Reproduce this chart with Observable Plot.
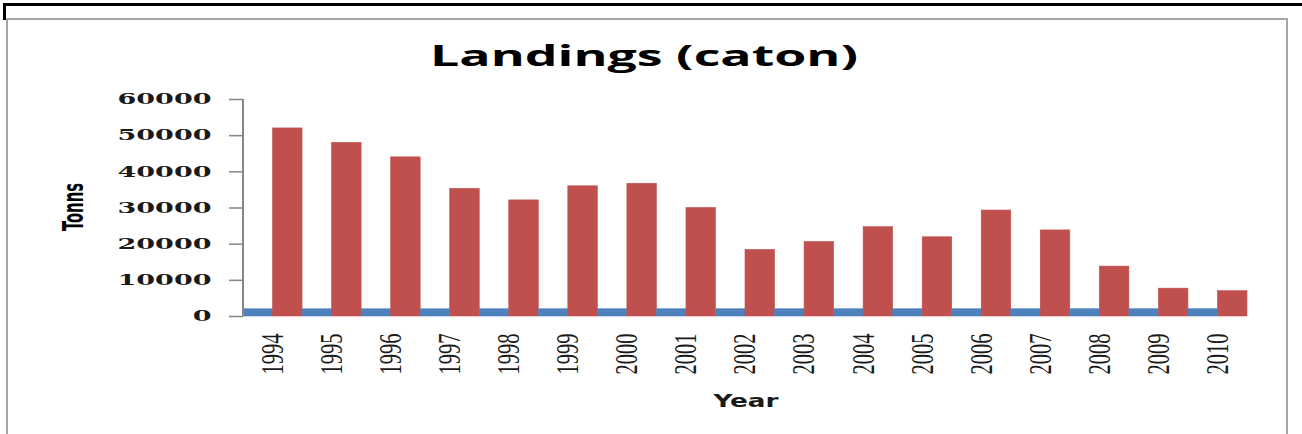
<!DOCTYPE html>
<html><head><meta charset="utf-8">
<script src="https://cdn.jsdelivr.net/npm/d3@7"></script>
<script src="https://cdn.jsdelivr.net/npm/@observablehq/plot@0.6"></script>
<style>
html,body{margin:0;padding:0;background:#fff;}
#wrap{position:relative;width:1302px;height:434px;overflow:hidden;background:#fff;}
#black{position:absolute;left:3px;top:3px;right:0;height:14px;border-top:3px solid #000;border-left:3px solid #000;}
#frame{position:absolute;left:6px;top:18px;width:1278px;height:440px;border:2px solid #a6a6a6;}
#wrap svg{position:absolute;left:0;top:0;}
</style></head>
<body><div id="wrap"><div id="black"></div><div id="frame"></div></div>
<script>
const years = ["1994","1995","1996","1997","1998","1999","2000","2001","2002","2003","2004","2005","2006","2007","2008","2009","2010"];
const landings = [52000,48000,44000,35300,32100,36000,36700,30000,18400,20600,24700,21900,29300,23800,13800,7700,7000];
const yearSeries = [1994,1995,1996,1997,1998,1999,2000,2001,2002,2003,2004,2005,2006,2007,2008,2009,2010];
const yTicks = [0,10000,20000,30000,40000,50000,60000];
const seriesNames = ["Year","Landings"];
const seriesColors = ["#4F81BD","#C0504D"];
const titleText = "Landings (caton)";
const yLabel = "Tonns";
const xLabel = "Year";

const rows = years.flatMap((yr, i) => [
  {year: yr, series: seriesNames[0], value: yearSeries[i]},
  {year: yr, series: seriesNames[1], value: landings[i]}
]);

const svg = Plot.plot({
  width: 1302, height: 434,
  marginLeft: 243, marginRight: 55, marginTop: 99, marginBottom: 118,
  style: {background: "transparent", overflow: "visible"},
  fx: {domain: years, padding: 0, round: false, label: null},
  x: {domain: seriesNames, padding: 0, round: false, axis: null},
  y: {domain: [0, 60000], label: null},
  color: {domain: seriesNames, range: seriesColors},
  marks: [
    Plot.barY(rows, {fx: "year", x: "series", y: "value", fill: "series", stroke: "series", strokeWidth: 0.6, inset: 0}),
    Plot.axisY({ticks: yTicks, tickSize: 14, tickPadding: 18, tickFormat: d => String(d), label: null, stroke: "#868686", strokeWidth: 1.5}),
    Plot.axisFx({anchor: "bottom", tickSize: 0, tickPadding: 17, tickRotate: -90, label: null})
  ]
});

const s = d3.select(svg);
// y axis line, positioned through the chart's own scales
const fxScale = svg.scale("fx");
const yScale = svg.scale("y");
const ax = fxScale.apply(years[0]);
s.append("line")
  .attr("x1", ax).attr("x2", ax)
  .attr("y1", yScale.apply(yTicks[0])).attr("y2", yScale.apply(yTicks[yTicks.length - 1]))
  .style("stroke", "#868686").style("stroke-width", "2px");

s.selectAll('g[aria-label="y-axis tick label"] text')
  .attr("font-family", "DejaVu Serif").attr("font-weight", "bold").attr("font-size", 15)
  .attr("fill", "#1a1a1a")
  .each(function() {
    const n = this.textContent.length;
    this.setAttribute("textLength", n * 18.8);
    this.setAttribute("lengthAdjust", "spacingAndGlyphs");
  });
s.selectAll('g[aria-label="fx-axis tick label"] text')
  .attr("font-family", "Liberation Serif").attr("font-size", 31)
  .attr("fill", "#1a1a1a")
  .attr("textLength", 41).attr("lengthAdjust", "spacingAndGlyphs");

s.append("text").text(titleText)
  .attr("x", 644).attr("y", 66).attr("text-anchor", "middle")
  .attr("font-family", "Open Sans").attr("font-weight", 700).attr("font-size", 28)
  .attr("fill", "#000").attr("textLength", 428).attr("lengthAdjust", "spacingAndGlyphs");
s.append("text").text(yLabel)
  .attr("transform", "translate(83,207) rotate(-90)").attr("text-anchor", "middle")
  .attr("font-family", "DejaVu Sans Condensed").attr("font-weight", 700).attr("font-size", 28)
  .attr("fill", "#000").attr("textLength", 48).attr("lengthAdjust", "spacingAndGlyphs");
s.append("text").text(xLabel)
  .attr("x", 746).attr("y", 407).attr("text-anchor", "middle")
  .attr("font-family", "DejaVu Sans").attr("font-weight", 700).attr("font-size", 18)
  .attr("fill", "#1a1a1a").attr("textLength", 65).attr("lengthAdjust", "spacingAndGlyphs");

document.getElementById("wrap").appendChild(svg);
</script>
</body></html>
